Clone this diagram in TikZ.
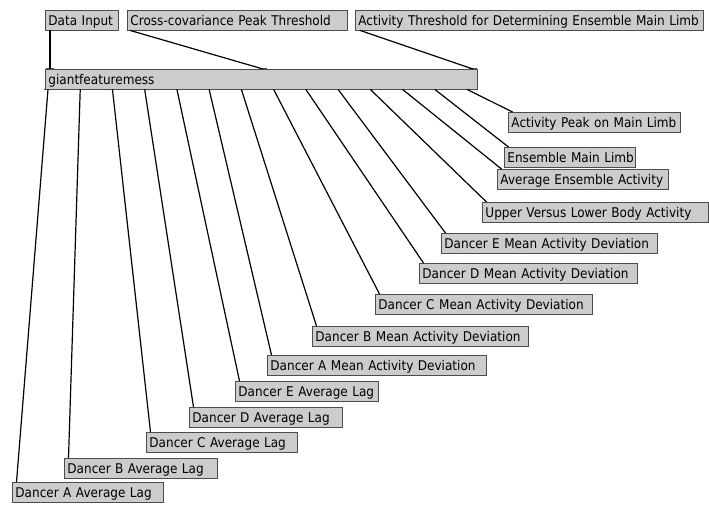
\documentclass[tikz,border=0pt]{standalone}
\usepackage{fontspec}
\setmainfont{DejaVu Sans}[FakeStretch=0.9]
\definecolor{objfill}{gray}{0.80}
\definecolor{objedge}{gray}{0.30}
\begin{document}
\begin{tikzpicture}[x=1pt,y=-1pt,
  obj/.style={draw=objedge, fill=objfill, line width=0.9pt, anchor=north west,
    inner xsep=3pt, inner ysep=0pt, minimum height=19.5pt,
    text height=10.5pt, text depth=0pt,
    execute at begin node=\hbox\bgroup, execute at end node=\egroup,
    font=\fontsize{13.4}{16}\selectfont},
  patch/.style={line width=1.2pt, draw=black},
  tab/.style={line width=1.8pt, draw=objedge}]
\useasboundingbox[fill=white] (0,0) rectangle (709,504);

% inputs
\node[obj, text width=67pt]  (di) at (45,10)  {Data Input};
\node[obj, text width=214pt] (cc) at (127,10) {Cross-covariance Peak Threshold};
\node[obj, text width=342pt] (at) at (355,10) {Activity Threshold for Determining Ensemble Main Limb};

% the feature object
\node[obj, text width=426pt] (gfm) at (45,69) {giantfeaturemess};

% outputs
\node[obj, text width=166pt] (pk)  at (508,112) {Activity Peak on Main Limb};
\node[obj, text width=125pt] (eml) at (504,147) {Ensemble Main Limb};
\node[obj, text width=165pt] (aea) at (497,169) {Average Ensemble Activity};
\node[obj, text width=220pt] (uvl) at (482,202) {Upper Versus Lower Body Activity};
\node[obj, text width=210pt] (emd) at (441,233) {Dancer E Mean Activity Deviation};
\node[obj, text width=212pt] (dmd) at (419,263) {Dancer D Mean Activity Deviation};
\node[obj, text width=211pt] (cmd) at (375,294) {Dancer C Mean Activity Deviation};
\node[obj, text width=210pt] (bmd) at (312,326) {Dancer B Mean Activity Deviation};
\node[obj, text width=213pt] (amd) at (267,355) {Dancer A Mean Activity Deviation};
\node[obj, text width=137pt] (eal) at (235,381) {Dancer E Average Lag};
\node[obj, text width=147pt] (dal) at (189,407) {Dancer D Average Lag};
\node[obj, text width=145pt] (cal) at (146,432) {Dancer C Average Lag};
\node[obj, text width=147pt] (bal) at (64,458)  {Dancer B Average Lag};
\node[obj, text width=145pt] (aal) at (12,482)  {Dancer A Average Lag};

% inlets of the feature object
\draw[tab] ([xshift=1pt]gfm.north west) -- ++(8,0);
\draw[tab] ([xshift=214pt]gfm.north west) -- ++(8,0);
\draw[tab] ([xshift=-1pt]gfm.north east) -- ++(-8,0);

% patch cords into the feature object
\draw[patch] ([xshift=5pt]di.south west) -- ([xshift=5pt]gfm.north west);
\draw[patch] ([xshift=3pt]cc.south west) -- ([xshift=218pt]gfm.north west);
\draw[patch] ([xshift=5pt]at.south west) -- ([xshift=-5pt]gfm.north east);

% outlets and patch cords out of the feature object
\foreach \k/\t in {0/aal,1/bal,2/cal,3/dal,4/eal,5/amd,6/bmd,7/cmd,8/dmd,9/emd,10/uvl,11/aea,12/eml,13/pk}{
  \pgfmathsetmacro\dx{3+32.23*\k}
  \draw[tab] ([xshift=\dx pt-4pt]gfm.south west) -- ++(8,0);
  \draw[patch] ([xshift=\dx pt]gfm.south west) -- ([xshift=4.5pt]\t.north west);
}
\end{tikzpicture}
\end{document}
